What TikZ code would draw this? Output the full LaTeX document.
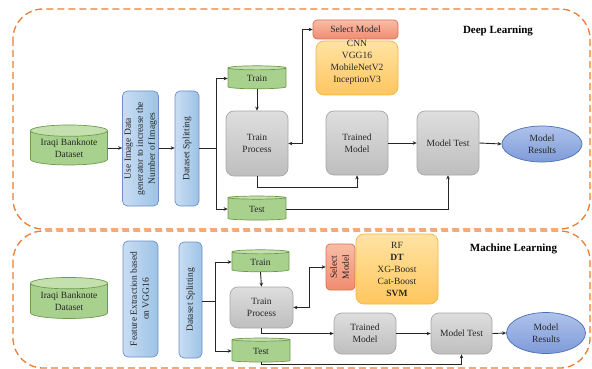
\documentclass[tikz,border=0pt]{standalone}
\usepackage{fontspec}
\usepackage{graphicx}
\setmainfont{Liberation Serif}
\usetikzlibrary{shapes.geometric,arrows.meta,calc}

\definecolor{dashorange}{HTML}{ED7D31}
\definecolor{cylfill}{HTML}{A9D18E}
\definecolor{cyltop}{HTML}{C3E0AE}
\definecolor{cyledge}{HTML}{6E9A4E}
\definecolor{blueA}{HTML}{C9DDF3}
\definecolor{blueB}{HTML}{9DC3E6}
\definecolor{blueedge}{HTML}{6F8FC6}
\definecolor{grayA}{HTML}{DEDEDE}
\definecolor{grayB}{HTML}{BEBEBE}
\definecolor{grayedge}{HTML}{A6A6A6}
\definecolor{salA}{HTML}{F9BCA6}
\definecolor{salB}{HTML}{F08C70}
\definecolor{saledge}{HTML}{D9704F}
\definecolor{yelA}{HTML}{FFE3A3}
\definecolor{yelB}{HTML}{FFC65E}
\definecolor{yeledge}{HTML}{F2B54A}
\definecolor{ellA}{HTML}{AFC2EC}
\definecolor{ellB}{HTML}{7E9BD8}
\definecolor{elledge}{HTML}{4A6FB5}
\definecolor{ink}{HTML}{262626}

\newcommand\dfont{\fontsize{9.5}{12}\selectfont}
\newcommand\vlines[1]{\rotatebox{90}{\begin{tabular}{@{}c@{}}#1\end{tabular}}}

\tikzset{
  panel/.style={draw=dashorange, line width=1.3pt, dash pattern=on 7pt off 4pt, rounded corners=30pt},
  db/.style={cylinder, shape border rotate=90, aspect=0.2, draw=cyledge, line width=0.7pt,
    cylinder uses custom fill, cylinder body fill=cylfill, cylinder end fill=cyltop,
    inner sep=0pt, font=\dfont, text=ink, align=center},
  prepbox/.style={draw=blueedge, line width=0.7pt, left color=blueA, right color=blueB,
    rounded corners=5pt, inner sep=0pt, font=\dfont, text=ink},
  procbox/.style={draw=grayedge, line width=0.7pt, top color=grayA, bottom color=grayB,
    rounded corners=8pt, inner sep=0pt, font=\dfont, text=ink, align=center},
  selbox/.style={draw=saledge, line width=0.7pt, top color=salA, bottom color=salB,
    rounded corners=4pt, inner sep=0pt, font=\dfont, text=ink, align=center},
  listbox/.style={draw=yeledge, line width=0.7pt, top color=yelA, bottom color=yelB,
    rounded corners=8pt, inner sep=0pt},
  listtext/.style={font=\dfont, text=ink, align=center, inner sep=0pt},
  result/.style={ellipse, draw=elledge, line width=0.7pt, top color=ellA, bottom color=ellB,
    inner sep=0pt, font=\dfont, text=ink, align=center},
  paneltitle/.style={font=\fontsize{11}{13}\selectfont\bfseries, text=black},
  ln/.style={draw=ink, line width=0.9pt},
  arr/.style={ln, -{Stealth[length=4pt,width=3.5pt]}},
  dbl/.style={ln, {Stealth[length=4pt,width=3.5pt]}-{Stealth[length=4pt,width=3.5pt]}},
}

\begin{document}
\begin{tikzpicture}[x=1pt,y=-1pt]
\useasboundingbox (0,0) rectangle (592,369);

% dashed panels
\draw[panel] (13,9) rectangle (590,229);
\draw[panel] (13,231) rectangle (590,368);

% ---------------- Deep Learning panel ----------------
\node[paneltitle] (dltitle) at (498,31) {Deep Learning};

\node[db, minimum width=77pt, minimum height=40pt] (ds1) at (69,148) {Iraqi Banknote\\Dataset};
\node[prepbox, minimum width=35pt, minimum height=115pt] (gen1) at (140.5,148.5)
  {\vlines{Use Image Data\\generator to increase the\\Number of Images}};
\node[prepbox, minimum width=24pt, minimum height=115pt] (split1) at (187,148.5)
  {\vlines{Dataset Splitting}};
\node[db, minimum width=58pt, minimum height=23pt] (train1) at (257,78.5) {Train};
\node[procbox, minimum width=62pt, minimum height=65pt] (tp1) at (257,143.5) {Train\\Process};
\node[db, minimum width=58pt, minimum height=24pt] (test1) at (257,209) {Test};
\node[selbox, minimum width=85pt, minimum height=19pt] (sel1) at (355.5,29.5) {Select Model};
\node[listbox, minimum width=82pt, minimum height=54pt] (list1) at (357,68) {};
\node[listtext] (list1t) at (357,62) {CNN\\VGG16\\MobileNetV2\\InceptionV3};
\node[procbox, minimum width=62pt, minimum height=64pt] (tm1) at (357,143) {Trained\\Model};
\node[procbox, minimum width=62pt, minimum height=64pt] (mt1) at (448,143) {Model Test};
\node[result, minimum width=80pt, minimum height=36pt] (res1) at (542,144) {Model\\Results};

\coordinate (j1) at (216,148);
\coordinate (k1) at (302,0);
\draw[arr] (ds1.east) -- (ds1.east -| gen1.west);
\draw[arr] (gen1.east |- ds1.east) -- (split1.west |- ds1.east);
\draw[ln] (split1.east |- j1) -- (j1);
\draw[arr] (j1) |- (train1.west);
\draw[arr] (j1) |- (test1.west);
\draw[arr] (train1.south) -- (tp1.north);
\draw[dbl] (tp1.east) -- (tp1.east -| k1) |- (sel1.west);
\draw[arr] (tp1.south) -- ++(0,11) -| (tm1.south);
\draw[arr] (test1.east) -| (mt1.south);
\draw[arr] (tm1.east) -- (mt1.west);
\draw[arr] (mt1.east) -- (res1.west);

% ---------------- Machine Learning panel ----------------
\node[paneltitle] (mltitle) at (513.5,249) {Machine Learning};

\node[db, minimum width=77pt, minimum height=41pt] (ds2) at (69,301) {Iraqi Banknote\\Dataset};
\node[prepbox, minimum width=35pt, minimum height=116pt] (fe2) at (140.5,299)
  {\vlines{Feature Extraction based\\on VGG16}};
\node[prepbox, minimum width=23pt, minimum height=116pt] (split2) at (190.5,300)
  {\vlines{Dataset Splitting}};
\node[db, minimum width=57pt, minimum height=22pt] (train2) at (260.5,262) {Train};
\node[procbox, minimum width=63pt, minimum height=41pt] (tp2) at (261.5,307.5) {Train\\Process};
\node[db, minimum width=58pt, minimum height=24pt] (test2) at (261,351) {Test};
\node[selbox, minimum width=29pt, minimum height=46pt] (sel2) at (340.5,267)
  {\vlines{Select\\Model}};
\node[listbox, minimum width=82pt, minimum height=70pt] (list2) at (397,269) {};
\node[listtext] (list2t) at (397,269) {RF\\\textbf{DT}\\XG-Boost\\Cat-Boost\\\textbf{SVM}};
\node[procbox, minimum width=62pt, minimum height=41pt] (tm2) at (365,333.5) {Trained\\Model};
\node[procbox, minimum width=61pt, minimum height=41pt] (mt2) at (461.5,333.5) {Model Test};
\node[result, minimum width=79pt, minimum height=41pt] (res2) at (546,333) {Model\\Results};

\coordinate (j2) at (215,301);
\coordinate (k2) at (309,0);
\draw[ln] (split2.east |- j2) -- (j2);
\draw[arr] (j2) |- (train2.west);
\draw[arr] (j2) |- (test2.west);
\draw[arr] (train2.south) -- (tp2.north);
\draw[dbl] (tp2.east) -- (tp2.east -| k2) |- (sel2.west);
\draw[arr] (tp2.south) |- (tm2.west);
\draw[arr] (test2.south) -- ++(0,2) -| (mt2.south);
\draw[arr] (tm2.east) -- (mt2.west);
\draw[arr] (mt2.east) -- (res2.west);
\end{tikzpicture}
\end{document}
